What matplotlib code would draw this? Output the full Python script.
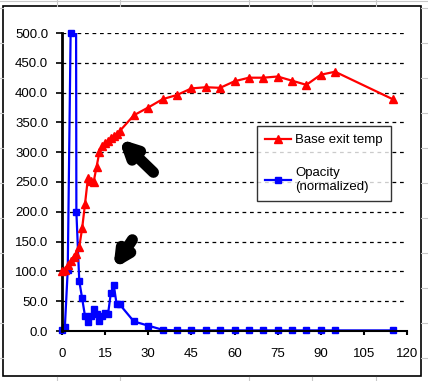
import matplotlib.pyplot as plt
from matplotlib.lines import Line2D

# Base exit temp series
temp_x = [0, 1, 2, 3, 4, 5, 6, 7, 8, 9, 10, 11, 12, 13, 14, 15, 16, 17, 18, 19, 20,
          25, 30, 35, 40, 45, 50, 55, 60, 65, 70, 75, 80, 85, 90, 95, 115]
temp_y = [100, 103, 110, 117, 124, 130, 141, 172, 213, 256, 252, 250, 275, 300, 311, 315,
          319, 323, 328, 331, 335, 362, 375, 389, 396, 407, 409, 408, 419, 425, 425, 427,
          420, 413, 430, 435, 389]

# Opacity (normalized) series; the x=4 value is far off scale
opac_x = [0, 1, 2, 3, 4, 5, 6, 7, 8, 9, 10, 11, 12, 13, 14, 15, 16, 17, 18, 19, 20,
          25, 30, 35, 40, 45, 50, 55, 60, 65, 70, 75, 80, 85, 90, 95, 115]
opac_y = [2, 7, 103, 500, 3200, 200, 84, 55, 25, 15, 25, 37, 28, 16, 25, 31, 28, 64, 77,
          45, 45, 16, 9, 2, 1, 1, 1, 1, 1, 1, 1, 1, 1, 1, 1, 1, 1]

x_ticks = [0, 15, 30, 45, 60, 75, 90, 105, 120]
y_ticks = [0, 50, 100, 150, 200, 250, 300, 350, 400, 450, 500]

plt.rcParams['font.family'] = ['Liberation Sans', 'DejaVu Sans']

fig = plt.figure(figsize=(4.28, 3.81), dpi=100)
W, H = 428, 381

# spreadsheet cell lines behind the chart
for gx in [57, 120, 249, 312, 376]:
    fig.add_artist(Line2D([gx / W, gx / W], [1, 1 - 6 / H], color='#c8c8c8', lw=0.8))
    fig.add_artist(Line2D([gx / W, gx / W], [0, 4 / H], color='#c8c8c8', lw=0.8))
for gy in range(8, 381, 35):
    fig.add_artist(Line2D([0, 3 / W], [1 - gy / H, 1 - gy / H], color='#c8c8c8', lw=0.8))
    fig.add_artist(Line2D([421 / W, 1], [1 - gy / H, 1 - gy / H], color='#c8c8c8', lw=0.8))
fig.add_artist(Line2D([0, 1], [1 - 1 / H, 1 - 1 / H], color='#c8c8c8', lw=0.8))

# chart border
fig.add_artist(plt.Rectangle((3 / W, 1 - 376 / H), 418 / W, 370 / H, fill=False,
                             edgecolor='black', lw=1.2, transform=fig.transFigure))

ax = fig.add_axes([62 / W, 1 - 331 / H, 345 / W, 298 / H])
ax.set_xlim(0, 120)
ax.set_ylim(0, 500)

for v in y_ticks[1:]:
    ax.axhline(v, color='black', lw=0.9, ls=(0, (3, 3)), zorder=1)

keep = [i for i, v in enumerate(opac_y) if v <= 500]

ax.plot(temp_x, temp_y, color='#ff0000', lw=1.6, zorder=3)
ax.plot(temp_x, temp_y, color='#ff0000', ls='none', marker='^', ms=6, zorder=3,
        clip_on=False)
ax.plot(opac_x, opac_y, color='#0000ff', lw=1.6, zorder=2)
ax.plot([opac_x[i] for i in keep], [opac_y[i] for i in keep], color='#0000ff', ls='none',
        marker='s', ms=5, zorder=2, clip_on=False)

# hand-drawn pointer arrows
ax.annotate('', xy=(19.0, 326), xytext=(32.5, 263),
            arrowprops=dict(arrowstyle='-|>', color='black', lw=8, mutation_scale=22,
                            capstyle='round'))
ax.annotate('', xy=(17.3, 100), xytext=(25.0, 157),
            arrowprops=dict(arrowstyle='-|>', color='black', lw=8, mutation_scale=20,
                            capstyle='round'))

ax.set_xticks(x_ticks)
ax.set_yticks(y_ticks)
ax.set_yticklabels([f'{v:.1f}' for v in y_ticks])
ax.tick_params(axis='both', labelsize=9.5, colors='black', direction='out')
ax.tick_params(axis='y', length=4, width=1.2, pad=6)
ax.tick_params(axis='x', length=3, width=1.5, pad=9)

ax.spines['top'].set_visible(False)
ax.spines['right'].set_visible(False)
ax.spines['left'].set_linewidth(2)
ax.spines['bottom'].set_linewidth(1.5)

handles = [Line2D([], [], color='#ff0000', lw=1.6, marker='^', ms=6),
           Line2D([], [], color='#0000ff', lw=1.6, marker='s', ms=5)]
leg = ax.legend(handles, ['Base exit temp', 'Opacity\n(normalized)'], loc='upper left',
                bbox_to_anchor=(257 / W, 1 - 126 / H), bbox_transform=fig.transFigure,
                borderaxespad=0, fontsize=9.5, frameon=True, fancybox=False,
                edgecolor='black', handlelength=2.0, handletextpad=0.3,
                labelspacing=1.6, borderpad=0.6)
leg.get_frame().set_linewidth(1.0)

fig.savefig('out.png', dpi=100)
